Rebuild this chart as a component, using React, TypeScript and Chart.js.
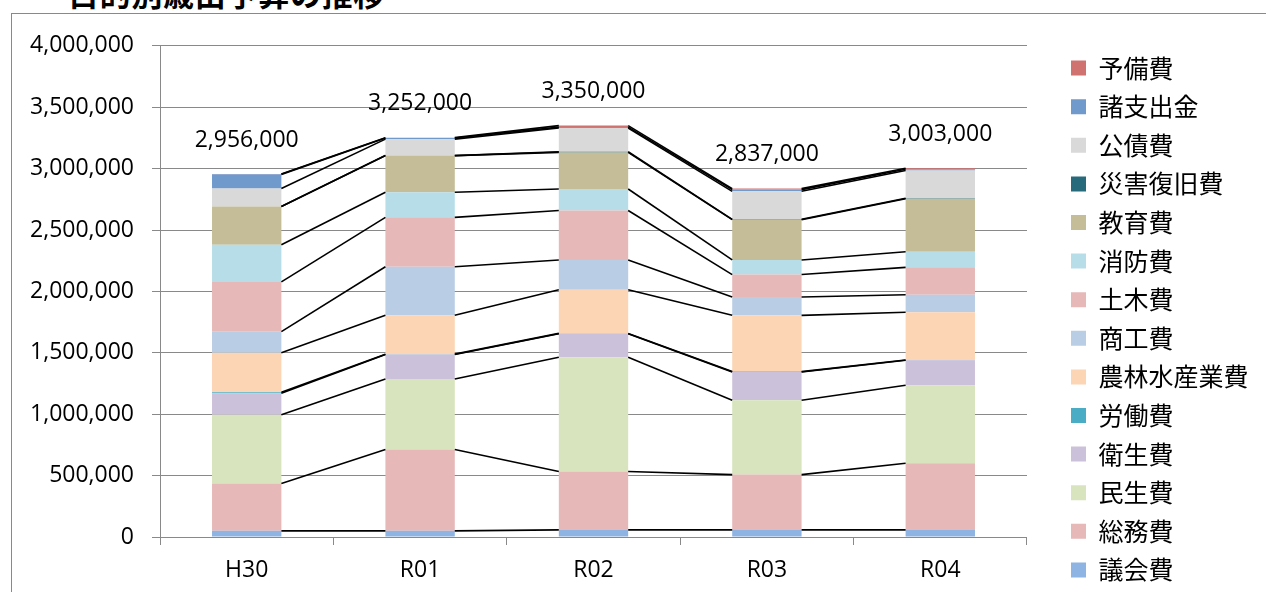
import React, { useEffect, useRef } from 'react';
import { Chart, registerables } from 'chart.js';

Chart.register(...registerables);

const years = ['H30', 'R01', 'R02', 'R03', 'R04'];

// 目的別歳出予算（円）、積み上げの下から順
const gikaihi = [50000, 50000, 58000, 58000, 58000];
const somuhi = [385000, 662000, 476000, 450000, 542000];
const minseihi = [560000, 574000, 930000, 606000, 636000];
const eiseihi = [175000, 200000, 191000, 230000, 203000];
const rodohi = [8000, 3000, 3000, 3000, 3000];
const norinhi = [322000, 316000, 355000, 458000, 388000];
const shokohi = [172000, 396000, 243000, 150000, 143000];
const dobokuhi = [405000, 402000, 403000, 182000, 223000];
const shobohi = [303000, 205000, 175000, 119000, 127000];
const kyoikuhi = [312000, 298000, 298000, 328000, 432000];
const saigaihi = [0, 0, 5000, 3000, 3000];
const kosaihi = [146000, 134000, 193000, 228000, 226000];
const shoshishutsu = [115000, 9000, 8000, 14000, 11000];
const yobihi = [3000, 3000, 12000, 8000, 8000];

const seriesNames = [
  '議会費', '総務費', '民生費', '衛生費', '労働費', '農林水産業費', '商工費',
  '土木費', '消防費', '教育費', '災害復旧費', '公債費', '諸支出金', '予備費',
];
const seriesData = [
  gikaihi, somuhi, minseihi, eiseihi, rodohi, norinhi, shokohi,
  dobokuhi, shobohi, kyoikuhi, saigaihi, kosaihi, shoshishutsu, yobihi,
];
const seriesColors = [
  '#8EB4E3', '#E6B9B8', '#D7E4BD', '#CCC1DA', '#4BACC6', '#FCD5B5', '#B9CDE5',
  '#E6B9B8', '#B7DEE8', '#C4BD97', '#276A7C', '#D9D9D9', '#7099CC', '#D07270',
];

const yTicks = { min: 0, max: 4000000, step: 500000 };

const LATIN = '"Open Sans", "Liberation Sans", sans-serif';
const CJK = '"Noto Sans CJK JP", sans-serif';
const GRID = '#898989';

// Excel風の区分線（各系列の上端を隣の棒とつなぐ）
const seriesLines = {
  id: 'seriesLines',
  afterDatasetsDraw(chart: any) {
    const { ctx } = chart;
    ctx.save();
    ctx.strokeStyle = '#000';
    ctx.lineWidth = 1.6;
    chart.data.datasets.forEach((_: any, di: number) => {
      const meta = chart.getDatasetMeta(di);
      for (let i = 0; i < meta.data.length - 1; i++) {
        const a: any = meta.data[i];
        const b: any = meta.data[i + 1];
        ctx.beginPath();
        ctx.moveTo(a.x + a.width / 2, a.y);
        ctx.lineTo(b.x - b.width / 2, b.y);
        ctx.stroke();
      }
    });
    ctx.restore();
  },
};

// 棒の上の合計値
const totalLabels = {
  id: 'totalLabels',
  afterDatasetsDraw(chart: any) {
    const { ctx } = chart;
    const xs = chart.scales.x;
    const ys = chart.scales.y;
    ctx.save();
    ctx.font = `23px ${LATIN}`;
    ctx.fillStyle = '#000';
    ctx.textAlign = 'center';
    ctx.textBaseline = 'middle';
    years.forEach((_, i) => {
      const total = chart.data.datasets.reduce((s: number, d: any) => s + d.data[i], 0);
      ctx.fillText(total.toLocaleString('en-US'), xs.getPixelForValue(i), ys.getPixelForValue(total) - 34);
    });
    ctx.restore();
  },
};

// 空白用の見えない軸
const blankAxis = (position: string, size: number) => ({
  position,
  display: true,
  grid: { display: false },
  ticks: { display: false },
  border: { display: false },
  afterFit: (s: any) => {
    if (position === 'top') s.height = size;
    else s.width = size;
  },
});

const App: React.FC = () => {
  const chartRef = useRef<HTMLCanvasElement>(null);
  const chartInstance = useRef<Chart | null>(null);

  useEffect(() => {
    if (chartInstance.current) {
      chartInstance.current.destroy();
    }
    const ctx = chartRef.current?.getContext('2d');
    if (!ctx) return;

    chartInstance.current = new Chart(ctx, {
      type: 'bar',
      data: {
        labels: years,
        datasets: seriesNames.map((name, i) => ({
          label: name,
          data: seriesData[i],
          backgroundColor: seriesColors[i],
          borderWidth: 0,
          barPercentage: 0.4,
          categoryPercentage: 1,
        })),
      },
      plugins: [seriesLines, totalLabels],
      options: {
        animation: false,
        responsive: true,
        maintainAspectRatio: false,
        layout: { padding: { top: 0, right: 7.5, bottom: 0, left: 0 } },
        plugins: {
          legend: {
            position: 'right',
            reverse: true,
            labels: {
              color: '#000',
              font: { family: CJK, size: 25 },
              boxWidth: 15,
              boxHeight: 15,
              padding: 13.6,
            },
          },
          tooltip: { enabled: false },
        },
        scales: {
          x: {
            stacked: true,
            grid: { drawOnChartArea: false, color: GRID, tickLength: 8 },
            border: { color: GRID },
            ticks: { color: '#000', font: { family: LATIN, size: 23 }, padding: 12 },
            afterFit: (s: any) => { s.height = 87; },
          },
          y: {
            stacked: true,
            min: yTicks.min,
            max: yTicks.max,
            grid: { color: GRID, tickLength: 8 },
            border: { color: GRID },
            ticks: {
              stepSize: yTicks.step,
              color: '#000',
              font: { family: LATIN, size: 23 },
              padding: 18,
              callback: (v: any) => Number(v).toLocaleString('en-US'),
            },
            afterFit: (s: any) => { s.width = 148; },
          },
          topGap: blankAxis('top', 30),
          rightGap: blankAxis('right', 30.4),
        },
      } as any,
    });

    return () => {
      if (chartInstance.current) {
        chartInstance.current.destroy();
        chartInstance.current = null;
      }
    };
  }, []);

  return (
    <div style={{ position: 'fixed', left: 0, top: 0, width: 1266, height: 592, overflow: 'hidden', background: '#fff' }}>
      <div
        style={{
          position: 'absolute', left: 68, top: -23, fontFamily: CJK, fontWeight: 700,
          fontSize: 31, lineHeight: '31px', letterSpacing: 0.7, whiteSpace: 'nowrap', color: '#000',
        }}
      >
        目的別歳出予算の推移
      </div>
      <div style={{ position: 'absolute', left: 11, top: 13, width: 1300, height: 700, border: `1px solid ${GRID}` }}>
        <div style={{ position: 'relative', width: 1254, height: 610 }}>
          <canvas ref={chartRef} />
        </div>
      </div>
    </div>
  );
};

export default App;
